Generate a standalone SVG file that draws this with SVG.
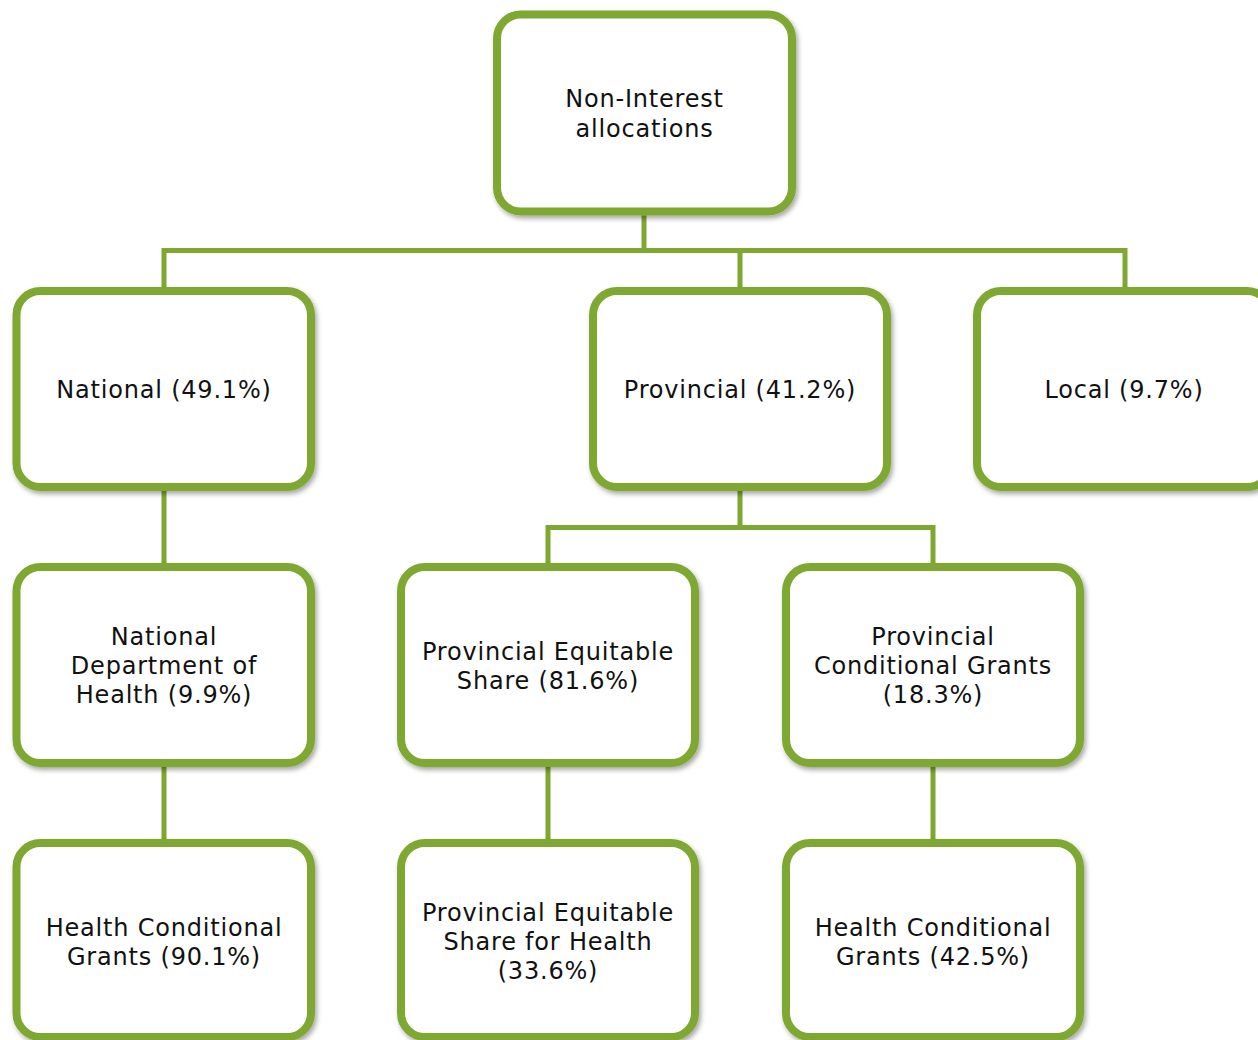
<svg xmlns="http://www.w3.org/2000/svg" width="1258" height="1040" viewBox="0 0 1258 1040">
<style>
.box{fill:#ffffff;stroke:#7EA832;stroke-width:8;filter:url(#sh)}
.lbl{font-family:"DejaVu Sans","Liberation Sans",sans-serif;font-size:24px;letter-spacing:0.8px;fill:#111111;text-anchor:middle}
.con{fill:none;stroke:#7EA832;stroke-width:5}
</style>
<defs>
<filter id="sh" x="-10%" y="-10%" width="125%" height="125%">
<feDropShadow dx="2" dy="3" stdDeviation="2.5" flood-color="#000000" flood-opacity="0.35"/>
</filter>
</defs>
<rect width="1258" height="1040" fill="#ffffff"/>
<g id="connectors">
<path class="con" d="M644 211V250.5M164 291V250.5H1125V291M740 250.5V291"/>
<path class="con" d="M164 487V567M164 763V843"/>
<path class="con" d="M740 487V527.5M548 567V527.5H933V567"/>
<path class="con" d="M548 763V843M933 763V843"/>
</g>
<g id="n-root"><rect class="box" x="497" y="14.5" width="295" height="197" rx="24"/>
<text class="lbl" x="644.5"><tspan x="644.5" y="107">Non-Interest</tspan><tspan x="644.5" y="136.5">allocations</tspan></text></g>
<g id="n-national"><rect class="box" x="16.5" y="291" width="294.5" height="196" rx="24"/>
<text class="lbl" x="164" y="398">National (49.1%)</text></g>
<g id="n-provincial"><rect class="box" x="593" y="291" width="294" height="196" rx="24"/>
<text class="lbl" x="740" y="398">Provincial (41.2%)</text></g>
<g id="n-local"><rect class="box" x="977" y="291" width="294" height="196" rx="24"/>
<text class="lbl" x="1124" y="398">Local (9.7%)</text></g>
<g id="n-ndh"><rect class="box" x="16.5" y="567" width="294.5" height="196" rx="24"/>
<text class="lbl"><tspan x="164" y="645">National</tspan><tspan x="164" y="674">Department of</tspan><tspan x="164" y="703">Health (9.9%)</tspan></text></g>
<g id="n-pes"><rect class="box" x="401" y="567" width="294" height="196" rx="24"/>
<text class="lbl"><tspan x="548" y="660">Provincial Equitable</tspan><tspan x="548" y="689">Share (81.6%)</tspan></text></g>
<g id="n-pcg"><rect class="box" x="786" y="567" width="294" height="196" rx="24"/>
<text class="lbl"><tspan x="933" y="645">Provincial</tspan><tspan x="933" y="674">Conditional Grants</tspan><tspan x="933" y="703">(18.3%)</tspan></text></g>
<g id="n-hcg1"><rect class="box" x="16.5" y="843" width="294.5" height="194" rx="24"/>
<text class="lbl"><tspan x="164" y="936">Health Conditional</tspan><tspan x="164" y="965">Grants (90.1%)</tspan></text></g>
<g id="n-pesh"><rect class="box" x="401" y="843" width="294" height="194" rx="24"/>
<text class="lbl"><tspan x="548" y="921">Provincial Equitable</tspan><tspan x="548" y="950">Share for Health</tspan><tspan x="548" y="979">(33.6%)</tspan></text></g>
<g id="n-hcg2"><rect class="box" x="786" y="843" width="294" height="194" rx="24"/>
<text class="lbl"><tspan x="933" y="936">Health Conditional</tspan><tspan x="933" y="965">Grants (42.5%)</tspan></text></g>
</svg>
